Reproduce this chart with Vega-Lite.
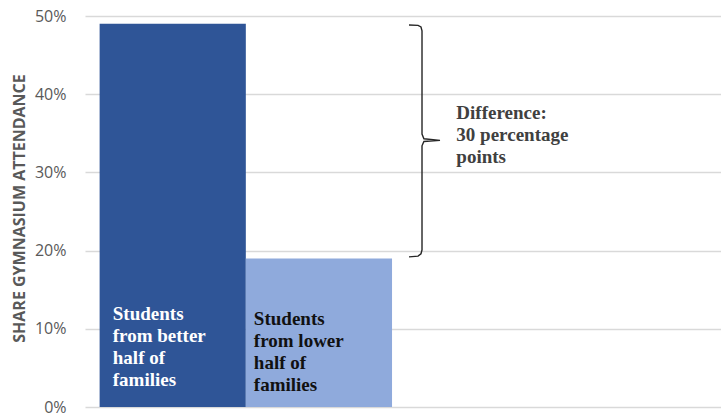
{
  "$schema": "https://vega.github.io/schema/vega-lite/v6.json",
  "width": 636,
  "height": 391,
  "autosize": "none",
  "padding": {"left": 85, "top": 16, "right": 0, "bottom": 7},
  "background": "white",
  "config": {
    "view": {"stroke": null},
    "axis": {"labelFont": "Open Sans", "titleFont": "Open Sans"}
  },
  "datasets": {
    "bars": [
      {"group": "Students from better half of families", "share": 0.49, "x0": 0.1, "x1": 1.1, "color": "#2F5597"},
      {"group": "Students from lower half of families", "share": 0.19, "x0": 1.1, "x1": 2.1, "color": "#8FAADC"}
    ],
    "labels": [
      {"text": "Students\nfrom better\nhalf of\nfamilies", "x": 0.19, "y": 0.111, "color": "#FFFFFF"},
      {"text": "Students\nfrom lower\nhalf of\nfamilies", "x": 1.155, "y": 0.105, "color": "#111111"}
    ],
    "brace": [
      {"i": 1, "x": 2.216, "y": 0.4885},
      {"i": 2, "x": 2.278, "y": 0.488},
      {"i": 3, "x": 2.298, "y": 0.486},
      {"i": 4, "x": 2.305, "y": 0.481},
      {"i": 5, "x": 2.305, "y": 0.349},
      {"i": 6, "x": 2.318, "y": 0.343},
      {"i": 7, "x": 2.428, "y": 0.341},
      {"i": 8, "x": 2.318, "y": 0.3395},
      {"i": 9, "x": 2.305, "y": 0.334},
      {"i": 10, "x": 2.305, "y": 0.201},
      {"i": 11, "x": 2.298, "y": 0.196},
      {"i": 12, "x": 2.278, "y": 0.193},
      {"i": 13, "x": 2.216, "y": 0.192}
    ],
    "note": [
      {"text": "Difference:\n30 percentage\npoints", "x": 2.54, "y": 0.368}
    ]
  },
  "layer": [
    {
      "data": {"name": "bars"},
      "mark": {"type": "rect"},
      "encoding": {
        "x": {"field": "x0", "type": "quantitative", "scale": {"domain": [0, 4.35], "nice": false, "zero": false}, "axis": null},
        "x2": {"field": "x1"},
        "y": {
          "field": "share",
          "type": "quantitative",
          "scale": {"domain": [0, 0.5], "nice": false},
          "axis": {
            "values": [0, 0.1, 0.2, 0.3, 0.4, 0.5],
            "format": ".0%",
            "domain": false,
            "ticks": false,
            "grid": true,
            "gridColor": "#D9D9D9",
            "gridWidth": 1.5,
            "labelColor": "#595959",
            "labelFontSize": 16,
            "labelPadding": 19,
            "title": "SHARE GYMNASIUM ATTENDANCE",
            "titleColor": "#595959",
            "titleFontSize": 16,
            "titleFontWeight": "bold",
            "titleAngle": -90,
            "titleAlign": "center",
            "titleBaseline": "middle",
            "titleX": -66,
            "titleY": 192
          }
        },
        "y2": {"datum": 0},
        "color": {"field": "color", "type": "nominal", "scale": null}
      }
    },
    {
      "data": {"name": "labels"},
      "mark": {"type": "text", "align": "left", "baseline": "alphabetic", "font": "Liberation Serif", "fontWeight": "bold", "fontSize": 19, "lineHeight": 22, "lineBreak": "\n"},
      "encoding": {
        "x": {"field": "x", "type": "quantitative"},
        "y": {"field": "y", "type": "quantitative"},
        "text": {"field": "text"},
        "color": {"field": "color", "type": "nominal", "scale": null}
      }
    },
    {
      "data": {"name": "brace"},
      "mark": {"type": "line", "color": "#262626", "strokeWidth": 1.4},
      "encoding": {
        "x": {"field": "x", "type": "quantitative"},
        "y": {"field": "y", "type": "quantitative"},
        "order": {"field": "i"}
      }
    },
    {
      "data": {"name": "note"},
      "mark": {"type": "text", "align": "left", "baseline": "alphabetic", "font": "Liberation Serif", "fontWeight": "bold", "fontSize": 19, "lineHeight": 22, "lineBreak": "\n", "color": "#404040"},
      "encoding": {
        "x": {"field": "x", "type": "quantitative"},
        "y": {"field": "y", "type": "quantitative"},
        "text": {"field": "text"}
      }
    }
  ]
}
